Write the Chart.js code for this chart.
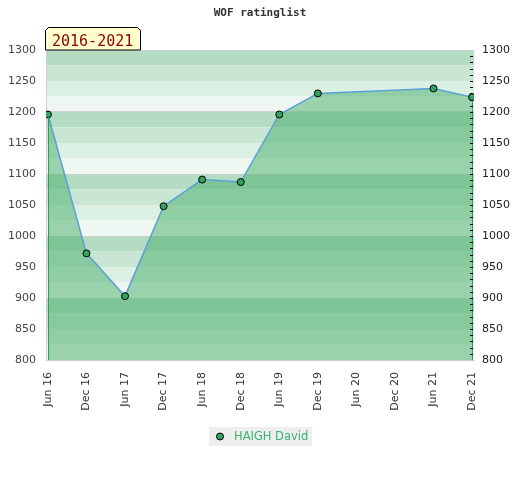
<!DOCTYPE html>
<html>
<head>
<meta charset="utf-8">
<script src="https://cdn.jsdelivr.net/npm/chart.js@4"></script>
<style>
  body { margin: 0; background: #fff; }
  #chart { display: block; }
</style>
</head>
<body>
<canvas id="chart" width="520" height="480"></canvas>
<script>
// Data
const periods = ['Jun 16', 'Dec 16', 'Jun 17', 'Dec 17', 'Jun 18', 'Dec 18',
                 'Jun 19', 'Dec 19', 'Jun 20', 'Dec 20', 'Jun 21', 'Dec 21'];
const ratings = [1196, 972, 903, 1048, 1091, 1087, 1196, 1230, null, null, 1238, 1224];
const playerName = 'HAIGH David';
const chartTitle = 'WOF ratinglist';
const rangeLabel = '2016-2021';

// Colours
const stripeColors = ['#b3dcc2', '#c9e6d4', '#dcefe3', '#eef7f1'];
const fillColor = 'rgba(78, 177, 111, 0.53)';
const lineColor = '#5aa0d8';
const pointColor = '#36a05e';
const legendColor = '#3cb371';

// Background stripes, every 25 points
const stripesPlugin = {
    id: 'stripes',
    beforeDraw(chart) {
        const { ctx, chartArea } = chart;
        const y = chart.scales.y;
        ctx.save();
        for (let v = 1300; v > 800; v -= 25) {
            const top = y.getPixelForValue(v);
            const bottom = y.getPixelForValue(v - 25);
            ctx.fillStyle = stripeColors[((1300 - v) / 25) % 4];
            ctx.fillRect(chartArea.left, top, chartArea.right - chartArea.left, bottom - top);
        }
        ctx.restore();
    }
};

// Title, range box, edge lines, minor ticks and legend
const decorPlugin = {
    id: 'decor',
    afterDatasetsDraw(chart) {
        const { ctx, chartArea } = chart;
        const x = chart.scales.x;
        const y = chart.scales.y;
        const valid = ratings.map((v, i) => [i, v]).filter(p => p[1] !== null);
        const first = valid[0];
        const last = valid[valid.length - 1];
        ctx.save();
        ctx.strokeStyle = '#2e9e50';
        ctx.lineWidth = 1;
        [first, last].forEach(p => {
            const px = Math.round(x.getPixelForValue(p[0])) + 0.5;
            ctx.beginPath();
            ctx.moveTo(px, y.getPixelForValue(p[1]) + 3);
            ctx.lineTo(px, chartArea.bottom);
            ctx.stroke();
        });
        // minor ticks on the right side
        ctx.strokeStyle = '#000';
        for (let v = 810; v < 1300; v += 10) {
            const py = Math.round(y.getPixelForValue(v)) + 0.5;
            ctx.beginPath();
            ctx.moveTo(chartArea.right - 4, py);
            ctx.lineTo(chartArea.right - 1, py);
            ctx.stroke();
        }
        ctx.restore();
    },
    afterDraw(chart) {
        const { ctx, chartArea } = chart;
        ctx.save();
        // title
        ctx.fillStyle = '#333';
        ctx.font = 'bold 11px "DejaVu Sans Mono"';
        ctx.textAlign = 'center';
        ctx.textBaseline = 'middle';
        ctx.fillText(chartTitle, 260, 13);

        // range box
        const l = 45.5, r = 140.5, t = 27.5, b = chartArea.top;
        ctx.beginPath();
        ctx.moveTo(l, b);
        ctx.lineTo(l, t + 3);
        ctx.lineTo(l + 3, t);
        ctx.lineTo(r - 3, t);
        ctx.lineTo(r, t + 3);
        ctx.lineTo(r, b);
        ctx.closePath();
        ctx.fillStyle = '#ffffcc';
        ctx.fill();
        ctx.strokeStyle = '#000';
        ctx.lineWidth = 1;
        ctx.stroke();
        ctx.fillStyle = '#8b0000';
        ctx.font = '15px "DejaVu Sans Mono"';
        ctx.textAlign = 'left';
        ctx.textBaseline = 'alphabetic';
        ctx.fillText(rangeLabel, 52, 46);

        // legend
        ctx.fillStyle = '#eeeeee';
        ctx.fillRect(209, 427, 103, 19);
        ctx.beginPath();
        ctx.arc(220, 436.5, 3.5, 0, Math.PI * 2);
        ctx.fillStyle = pointColor;
        ctx.fill();
        ctx.strokeStyle = '#000';
        ctx.stroke();
        ctx.fillStyle = legendColor;
        ctx.font = '11.5px "DejaVu Sans"';
        ctx.textBaseline = 'middle';
        ctx.fillText(chart.data.datasets[0].label, 234, 437);
        ctx.restore();
    }
};

const yTicks = {
    stepSize: 50,
    color: '#444',
    font: { family: 'DejaVu Sans', size: 11 },
    callback: (v) => String(v)
};

new Chart(document.getElementById('chart'), {
    type: 'line',
    data: {
        datasets: [{
            label: playerName,
            data: ratings.map((v, i) => ({ x: i, y: v })),
            spanGaps: true,
            fill: 'start',
            backgroundColor: fillColor,
            borderColor: lineColor,
            borderWidth: 1.5,
            tension: 0,
            pointRadius: 3.5,
            pointBackgroundColor: pointColor,
            pointBorderColor: '#000',
            pointBorderWidth: 1
        }]
    },
    options: {
        responsive: false,
        animation: false,
        layout: { padding: { top: 50, left: 0, right: 0, bottom: 0 } },
        plugins: {
            legend: { display: false },
            title: { display: false },
            tooltip: { enabled: false }
        },
        scales: {
            x: {
                type: 'linear',
                min: -0.05,
                max: 11.05,
                afterFit(scale) { scale.height = 120; },
                afterBuildTicks(scale) {
                    scale.ticks = periods.map((p, i) => ({ value: i }));
                },
                ticks: {
                    autoSkip: false,
                    minRotation: 90,
                    maxRotation: 90,
                    padding: 4,
                    color: '#333',
                    font: { family: 'DejaVu Sans', size: 11 },
                    callback: (v) => periods[v]
                },
                grid: { display: false },
                border: { color: '#cccccc' }
            },
            y: {
                position: 'left',
                min: 800,
                max: 1300,
                afterFit(scale) { scale.width = 46; },
                ticks: { ...yTicks, padding: 10 },
                grid: {
                    color: (c) => c.tick && c.tick.value % 100 === 0 ? 'rgba(205,205,205,0.9)' : 'rgba(0,0,0,0)',
                    drawTicks: false
                },
                border: { color: '#d0d0d0' }
            },
            y2: {
                position: 'right',
                min: 800,
                max: 1300,
                afterFit(scale) { scale.width = 46; },
                ticks: { ...yTicks, color: '#222', padding: 8 },
                grid: { display: false, drawTicks: false },
                border: { display: false }
            }
        }
    },
    plugins: [stripesPlugin, decorPlugin]
});
</script>
</body>
</html>
